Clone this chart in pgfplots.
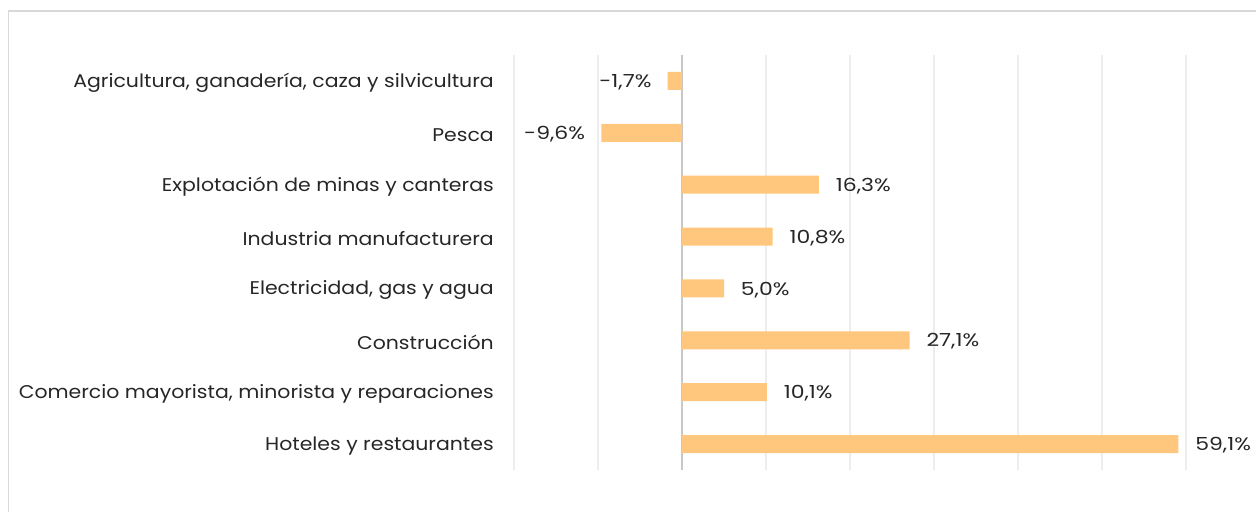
\documentclass[border=0pt]{standalone}
\usepackage{pgfplots}
\pgfplotsset{compat=1.18}
\usepackage{fontspec}
\setmainfont{Poppins}
\newfontfamily\lblfont[FakeStretch=1.11]{Poppins}
\newfontfamily\numfont[FakeStretch=1.22]{Poppins}
\definecolor{barc}{HTML}{FFC77D}
\definecolor{gridc}{HTML}{EDEDED}
\definecolor{framec}{HTML}{D9D9D9}
\definecolor{zeroc}{HTML}{C8C8C8}
\definecolor{txt}{HTML}{262626}
\begin{document}
\begin{tikzpicture}[x=0.75pt,y=0.75pt]
\path[use as bounding box] (0,0) rectangle (1256,511);
\draw[framec, line width=1.2pt] (8.5,-2) -- (8.5,500) -- (1260,500);
\begin{axis}[
  at={(385.5pt,30.75pt)}, anchor=south west,
  scale only axis, width=504pt, height=311.25pt,
  xmin=-20, xmax=60, ymin=-0.5, ymax=7.5, y dir=reverse,
  xtick={-20,-10,...,60}, xticklabels={},
  xmajorgrids, grid style={gridc, line width=0.9pt},
  extra x ticks={0}, extra x tick labels={},
  extra x tick style={grid style={zeroc, line width=1.1pt}},
  major tick length=0pt,
  axis line style={draw=none},
  ytick={0,...,7},
  yticklabels={Agricultura{,} ganadería{,} caza y silvicultura, Pesca, Explotación de minas y canteras, Industria manufacturera, {Electricidad, gas y agua}, Construcción\ , {Comercio mayorista, minorista y reparaciones}, Hoteles y restaurantes},
  yticklabel style={font=\lblfont\fontsize{13.8}{16}\selectfont, text=txt, inner sep=0pt, xshift=-15pt, yshift=-1.5pt},
  xbar, bar width=13.5pt, bar shift=0pt,
  point meta=explicit symbolic,
  nodes near coords,
  every node near coord/.append style={font=\numfont\fontsize{13.5}{16}\selectfont, text=txt, inner sep=0pt, yshift=-1pt},
  clip=false,
]
\addplot[draw=none, fill=barc, every node near coord/.append style={anchor=west, xshift=12.5pt}] coordinates {
  (16.3,2) [{16,3\%}]
  (10.8,3) [{10,8\%}]
  (5.0,4) [{5,0\%}]
  (27.1,5) [{27,1\%}]
  (10.1,6) [{10,1\%}]
  (59.1,7) [{59,1\%}]
};
\addplot[draw=none, fill=barc, every node near coord/.append style={anchor=east, xshift=-12pt}] coordinates {
  (-1.7,0) [{-1,7\%}]
  (-9.6,1) [{-9,6\%}]
};
\end{axis}
\end{tikzpicture}
\end{document}
